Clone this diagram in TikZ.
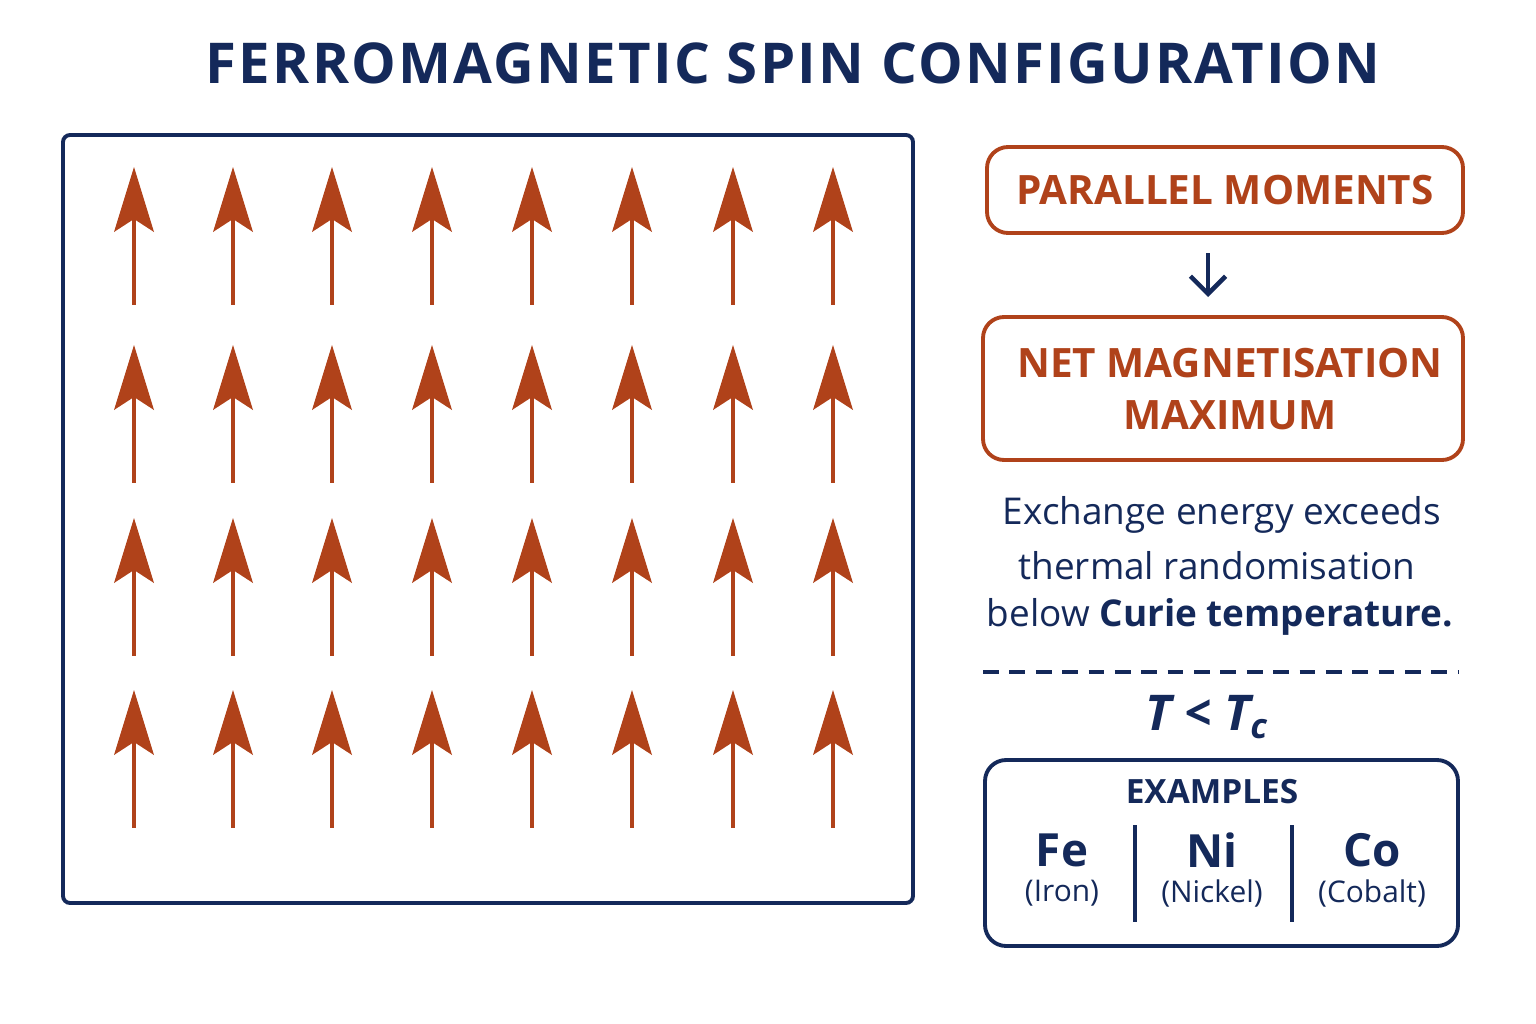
\documentclass[tikz,border=0pt]{standalone}
\usepackage{fontspec}
\setmainfont{Open Sans}
\usetikzlibrary{arrows.meta}
\definecolor{navy}{HTML}{14295A}
\definecolor{rust}{HTML}{B0421A}
\tikzset{
  spin/.style={rust, line width=1.4pt},
  infobox/.style={draw=rust, line width=1.1pt, rounded corners=6pt},
  navybox/.style={draw=navy, line width=1.1pt, rounded corners=6pt},
  headtext/.style={text=rust, font=\fontsize{11.5}{14}\selectfont\bfseries, align=center},
  bodytext/.style={text=navy, font=\fontsize{10.5}{13}\selectfont},
  elem/.style={text=navy, font=\fontsize{13}{15}\selectfont\bfseries},
  elemname/.style={text=navy, font=\fontsize{8.5}{10}\selectfont}
}
\newcommand{\spinup}[2]{% {x}{tip y}
  \draw[spin] (#1,#2+45) -- (#1,#2+138);
  \fill[rust] (#1,#2) -- (#1+20,#2+65) -- (#1,#2+52) -- (#1-20,#2+65) -- cycle;
}
\begin{document}
\begin{tikzpicture}[x=0.01cm, y=-0.01cm]
  \useasboundingbox[fill=white] (0,0) rectangle (1536,1024);

  \node[text=navy, font=\fontsize{16}{19}\selectfont\bfseries\addfontfeature{LetterSpace=4}] (title) at (793,63)
    {FERROMAGNETIC SPIN CONFIGURATION};

  % lattice of spins
  \draw[navy, line width=1.1pt, rounded corners=2pt] (63,135) rectangle (913,903);
  \foreach \x in {134,233,332,432,532,632,733,833} {
    \foreach \y in {167,345,518,690} {
      \spinup{\x}{\y}
    }
  }

  % right panel
  \draw[infobox] (987,147) rectangle (1463,233);
  \node[headtext] (par) at (1225,190) {PARALLEL MOMENTS};
  \coordinate (arrtop) at (1208,253);
  \coordinate (arrbot) at (1208,297);
  \draw[navy, line width=1.3pt, -{Straight Barb[length=5pt,width=10pt]}] (arrtop) -- (arrbot);
  \draw[infobox] (983,317) rectangle (1463,460);
  \node[headtext, font=\fontsize{11.5}{15}\selectfont\bfseries] (net) at (1230,389)
    {NET MAGNETISATION\\MAXIMUM};

  \node[bodytext] (l1) at (1222,515) {Exchange energy exceeds};
  \node[bodytext] (l2) at (1217,566) {thermal randomisation};
  \node[bodytext] (l3) at (1220,617) {below \textbf{Curie temperature.}};

  \draw[navy, line width=1pt, dash pattern=on 4.5pt off 3pt] (983,672) -- (1458,672);
  \node[text=navy, font=\fontsize{14}{17}\selectfont\bfseries\itshape] (cond) at (1207,717)
    {T < T\textsubscript{c}};

  \draw[navybox] (985,760) rectangle (1458,946);
  \node[text=navy, font=\fontsize{9.5}{11}\selectfont\bfseries] (ex) at (1212,792) {EXAMPLES};
  \draw[navy, line width=1.1pt] (1135,825) -- (1135,922);
  \draw[navy, line width=1.1pt] (1292,825) -- (1292,922);
  \node[elem] (fe) at (1062,850) {Fe};
  \node[elemname] (fen) at (1062,893) {(Iron)};
  \node[elem] (ni) at (1212,850) {Ni};
  \node[elemname] (nin) at (1212,893) {(Nickel)};
  \node[elem] (co) at (1372,850) {Co};
  \node[elemname] (con) at (1372,893) {(Cobalt)};
\end{tikzpicture}
\end{document}
